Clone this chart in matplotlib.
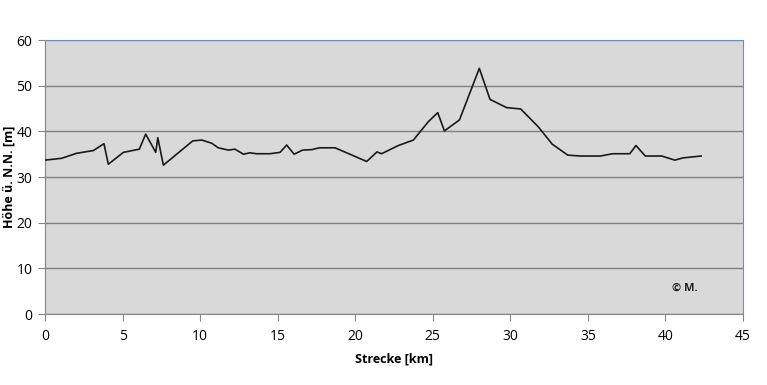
import matplotlib.pyplot as plt

# Streckenprofil: km / Hoehe
strecke_km = [0.0, 1.07, 2.04, 3.12, 3.80, 4.08, 5.05, 6.08, 6.49, 7.14, 7.27, 7.63,
              9.52, 10.1, 10.75, 11.17, 11.82, 12.25, 12.79, 13.2, 13.65, 14.5, 15.15,
              15.58, 16.06, 16.61, 17.2, 17.69, 18.7, 20.74, 21.4, 21.7, 22.78, 23.75,
              24.71, 25.32, 25.75, 26.72, 28.0, 28.69, 29.76, 30.67, 31.8, 32.7, 33.7,
              34.5, 35.8, 36.6, 37.7, 38.1, 38.7, 39.76, 40.6, 41.15, 42.3]
hoehe_m = [33.7, 34.1, 35.2, 35.8, 37.3, 32.8, 35.4, 36.1, 39.4, 35.4, 38.6, 32.6,
           37.9, 38.1, 37.4, 36.4, 35.9, 36.1, 35.0, 35.3, 35.1, 35.1, 35.4,
           37.0, 35.0, 35.9, 36.0, 36.4, 36.4, 33.4, 35.5, 35.1, 36.9, 38.1,
           42.1, 44.1, 40.1, 42.5, 53.8, 47.0, 45.2, 44.9, 41.0, 37.2, 34.8,
           34.6, 34.6, 35.1, 35.1, 36.9, 34.6, 34.6, 33.7, 34.2, 34.6]

x_ticks = [0, 5, 10, 15, 20, 25, 30, 35, 40, 45]
y_ticks = [0, 10, 20, 30, 40, 50, 60]

plt.rcParams['font.family'] = ['Open Sans', 'DejaVu Sans']

fig = plt.figure(figsize=(7.67, 3.85), dpi=100)
ax = fig.add_axes([0.0587, 0.1844, 0.91, 0.7116])
ax.set_facecolor('#d9d9d9')

ax.plot(strecke_km, hoehe_m, color='#1a1a1a', linewidth=1.2, zorder=3)

ax.set_xlim(0, 45)
ax.set_ylim(0, 60)
ax.set_xticks(x_ticks)
ax.set_yticks(y_ticks)
ax.grid(axis='y', color='#808080', linewidth=1.0, zorder=1)
ax.set_axisbelow(True)

for side in ['left', 'bottom']:
    ax.spines[side].set_color('#868686')
for side in ['top', 'right']:
    ax.spines[side].set_color('#6d8fc0')
ax.tick_params(direction='out', length=5, color='#868686', labelsize=10)
ax.tick_params(axis='x', pad=6)
ax.tick_params(axis='y', pad=4)

ax.set_xlabel('Strecke [km]', fontsize=9, fontweight='bold', labelpad=6)
ax.set_ylabel('Höhe ü. N.N. [m]', fontsize=9, fontweight='bold')
ax.yaxis.set_label_coords(-0.042, 0.5)

ax.text(40.4, 5, '© M.', fontsize=8, fontweight='bold', color='#222222')

plt.savefig('out.png', dpi=100)
